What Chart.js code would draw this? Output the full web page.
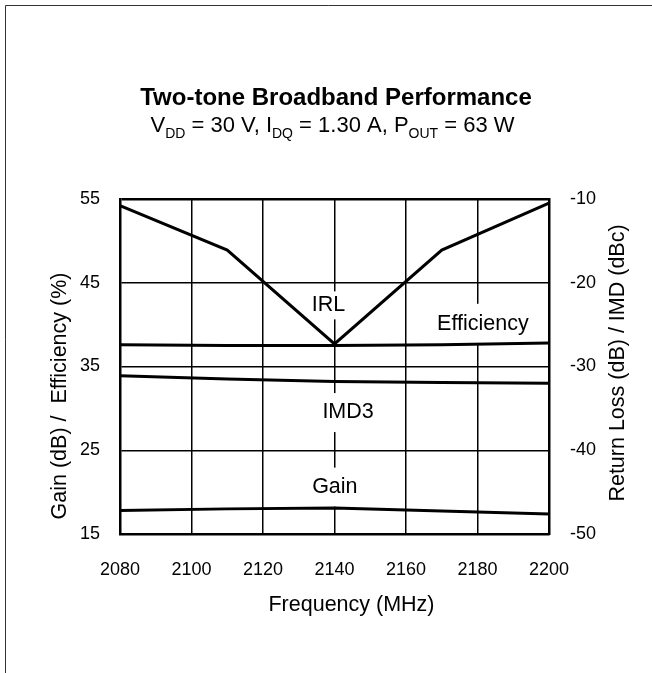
<!DOCTYPE html>
<html>
<head>
<meta charset="utf-8">
<script src="https://cdn.jsdelivr.net/npm/chart.js@4.4.1/dist/chart.umd.min.js"></script>
<style>
  html, body { margin: 0; padding: 0; background: #fff; }
  canvas { display: block; }
</style>
</head>
<body>
<canvas id="perfChart" width="652" height="673"></canvas>
<script>
// Two-tone broadband performance
const freqs = [2080, 2110, 2140, 2170, 2200];
const gainValues = [17.8, 18.0, 18.1, 17.75, 17.4];
const effValues = [37.6, 37.5, 37.5, 37.6, 37.8];
const irlValues = [-10.8, -16.1, -27.3, -16.1, -10.5];
const imdValues = [-31.1, -31.5, -31.8, -31.9, -32.0];

const freqTicks = [2080, 2100, 2120, 2140, 2160, 2180, 2200];
const leftTicks = [15, 25, 35, 45, 55];
const rightTicks = [-50, -40, -30, -20, -10];

const FONT = "Arial, 'Liberation Sans', Helvetica, sans-serif";

const toPoints = function (values) {
    let pts = [];
    for (var i = 0; i < freqs.length; i++) {
        pts.push({ x: freqs[i], y: values[i] });
    }
    return pts;
};

const useTicks = function (list) {
    return function (scale) {
        scale.ticks = list.map(v => ({ value: v }));
    };
};

// plain numbers, no thousands separator
const plainLabel = function (value) { return String(value); };

const curveStyle = {
    borderColor: '#000',
    borderWidth: 3,
    pointRadius: 0,
    tension: 0,
    fill: false
};

// frame, titles, axis titles and the curve name boxes
const decorPlugin = {
    id: 'decor',
    beforeDraw(chart) {
        const ctx = chart.ctx;
        ctx.save();
        ctx.fillStyle = '#fff';
        ctx.fillRect(0, 0, chart.width, chart.height);
        ctx.strokeStyle = '#333';
        ctx.lineWidth = 1;
        ctx.beginPath();
        ctx.moveTo(5.5, chart.height);
        ctx.lineTo(5.5, 5.5);
        ctx.lineTo(chart.width, 5.5);
        ctx.stroke();
        ctx.restore();
    },
    beforeDatasetsDraw(chart) {
        const ctx = chart.ctx;
        const xs = chart.scales.x, ys = chart.scales.y;
        const spots = [
            { text: 'IRL', x: 2138.3, y: 42.3, h: 28 },
            { text: 'Efficiency', x: 2181.5, y: 40.1, h: 40 },
            { text: 'IMD3', x: 2143.8, y: 29.5, h: 39 },
            { text: 'Gain', x: 2140.1, y: 20.6, h: 39 }
        ];
        ctx.save();
        ctx.font = '21.5px ' + FONT;
        ctx.textAlign = 'center';
        ctx.textBaseline = 'middle';
        spots.forEach(s => {
            const px = xs.getPixelForValue(s.x);
            const py = ys.getPixelForValue(s.y);
            const w = ctx.measureText(s.text).width + 8;
            ctx.fillStyle = '#fff';
            ctx.fillRect(px - w / 2, py - s.h / 2, w, s.h);
            ctx.fillStyle = '#000';
            ctx.fillText(s.text, px, py);
        });
        ctx.restore();
    },
    afterDraw(chart) {
        const ctx = chart.ctx;
        ctx.save();
        ctx.fillStyle = '#000';
        ctx.textAlign = 'center';
        ctx.textBaseline = 'alphabetic';
        ctx.font = 'bold 24px ' + FONT;
        ctx.fillText('Two-tone Broadband Performance', 336, 104.5);

        // subtitle with subscripts
        const parts = [
            ['V', false], ['DD', true], [' = 30 V, I', false], ['DQ', true],
            [' = 1.30 A, P', false], ['OUT', true], [' = 63 W', false]
        ];
        const mainFont = '22px ' + FONT, subFont = '14px ' + FONT;
        let total = 0;
        parts.forEach(p => { ctx.font = p[1] ? subFont : mainFont; total += ctx.measureText(p[0]).width; });
        let x = 332.5 - total / 2;
        ctx.textAlign = 'left';
        parts.forEach(p => {
            ctx.font = p[1] ? subFont : mainFont;
            ctx.fillText(p[0], x, p[1] ? 137.5 : 132);
            x += ctx.measureText(p[0]).width;
        });

        // axis titles
        ctx.font = '21.5px ' + FONT;
        ctx.textAlign = 'center';
        ctx.textBaseline = 'middle';
        ctx.fillText('Frequency (MHz)', 351.5, 605);

        ctx.save();
        ctx.translate(60.5, 396);
        ctx.rotate(-Math.PI / 2);
        ctx.fillText('Gain (dB) /  Efficiency (%)', 0, 0);
        ctx.restore();

        ctx.save();
        ctx.translate(618.5, 363);
        ctx.rotate(-Math.PI / 2);
        ctx.fillText('Return Loss (dB) / IMD (dBc)', 0, 0);
        ctx.restore();
        ctx.restore();
    }
};

const tickFont = { family: FONT, size: 18 };

new Chart(document.getElementById('perfChart'), {
    type: 'line',
    data: {
        datasets: [
            Object.assign({ label: 'IRL', data: toPoints(irlValues), yAxisID: 'y2' }, curveStyle),
            Object.assign({ label: 'Efficiency', data: toPoints(effValues), yAxisID: 'y' }, curveStyle),
            Object.assign({ label: 'IMD3', data: toPoints(imdValues), yAxisID: 'y2' }, curveStyle),
            Object.assign({ label: 'Gain', data: toPoints(gainValues), yAxisID: 'y' }, curveStyle)
        ]
    },
    options: {
        responsive: false,
        animation: false,
        events: [],
        layout: { padding: { top: 199, left: 0, right: 0, bottom: 0 } },
        scales: {
            x: {
                type: 'linear',
                min: 2080,
                max: 2200,
                afterBuildTicks: useTicks(freqTicks),
                afterFit: function (scale) { scale.height = 139; },
                grid: { color: '#000', lineWidth: 1.5, drawTicks: false },
                border: { color: '#000', width: 2.5 },
                ticks: { color: '#000', font: tickFont, padding: 25, maxRotation: 0, callback: plainLabel }
            },
            y: {
                position: 'left',
                min: 15,
                max: 55,
                afterBuildTicks: useTicks(leftTicks),
                afterFit: function (scale) { scale.width = 120; },
                grid: {
                    color: '#000',
                    drawTicks: false,
                    lineWidth: function (c) { return c.tick && c.tick.value === 55 ? 2.5 : 1.5; }
                },
                border: { color: '#000', width: 2.5 },
                ticks: { color: '#000', font: tickFont, padding: 20, callback: plainLabel }
            },
            y2: {
                position: 'right',
                min: -50,
                max: -10,
                afterBuildTicks: useTicks(rightTicks),
                afterFit: function (scale) { scale.width = 103; },
                grid: { display: false, drawTicks: false },
                border: { color: '#000', width: 2.5 },
                ticks: { color: '#000', font: tickFont, padding: 21, callback: plainLabel }
            }
        },
        plugins: {
            legend: { display: false },
            tooltip: { enabled: false },
            title: { display: false }
        }
    },
    plugins: [decorPlugin]
});
</script>
</body>
</html>
